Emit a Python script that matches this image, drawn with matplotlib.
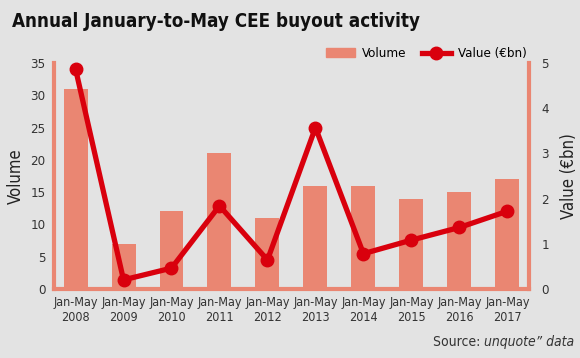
import matplotlib.pyplot as plt
from matplotlib.lines import Line2D
from matplotlib.patches import Patch

years = ["2008", "2009", "2010", "2011", "2012", "2013", "2014", "2015", "2016", "2017"]
tick_labels = [f"Jan-May\n{y}" for y in years]
volume = [31, 7, 12, 21, 11, 16, 16, 14, 15, 17]
value_bn = [4.87, 0.2, 0.46, 1.84, 0.64, 3.57, 0.78, 1.08, 1.36, 1.72]

BG = "#e3e3e3"
BAR = "#ea8672"
RED = "#d9000d"
TXT = "#333333"
plt.rcParams["font.family"] = ["DejaVu Sans"]
plt.rcParams["font.stretch"] = "condensed"

fig = plt.figure(figsize=(5.8, 3.58), dpi=100, facecolor=BG)
ax = fig.add_axes([0.093, 0.193, 0.819, 0.631], facecolor=BG)
x = list(range(len(years)))
ax.bar(x, volume, width=0.5, color=BAR, zorder=2)
ax.set_ylim(0, 35)
ax.set_xlim(-0.45, 9.45)
ax.set_yticks(range(0, 36, 5))
ax.set_xticks(x, tick_labels)
ax.tick_params(length=0, labelsize=9, colors=TXT, pad=5)
ax.tick_params(axis="y", labelsize=9.5, pad=6)
ax.set_ylabel("Volume", fontsize=12, color="#222222", labelpad=4)
for side in ("left", "bottom", "right"):
    ax.spines[side].set_color(BAR)
    ax.spines[side].set_linewidth(3)
ax.spines["top"].set_visible(False)

ax2 = ax.twinx()
ax2.plot(x, value_bn, color=RED, lw=3.8, marker="o", ms=9, zorder=3, clip_on=False)
ax2.set_ylim(0, 5)
ax2.tick_params(length=0, labelsize=9.5, colors=TXT, pad=9)
ax2.set_ylabel("Value (€bn)", fontsize=12, color="#222222", rotation=90, labelpad=8)
for side in ("left", "bottom", "top", "right"):
    ax2.spines[side].set_visible(False)

handles = [Patch(color=BAR), Line2D([], [], color=RED, lw=3.8, marker="o", ms=9)]
ax.legend(handles, ["Volume", "Value (€bn)"], ncol=2, frameon=False,
          loc="lower right", bbox_to_anchor=(1.0, 1.0), fontsize=9.5,
          handlelength=2.2, columnspacing=1.2, borderaxespad=0.1,
          borderpad=0.1, handletextpad=0.5)

fig.text(0.02, 0.94, "Annual January-to-May CEE buyout activity", fontsize=13.5,
         fontweight="bold", color="#111111", va="center")

src = fig.text(0.99, 0.045, "unquote\u201d data", fontsize=10, color=TXT, style="italic",
               ha="right", va="center")
fig.canvas.draw()
left = src.get_window_extent().x0 / fig.bbox.width
fig.text(left, 0.045, "Source: ", fontsize=10, color=TXT, ha="right", va="center")

fig.savefig("out.png", dpi=100, facecolor=BG)
